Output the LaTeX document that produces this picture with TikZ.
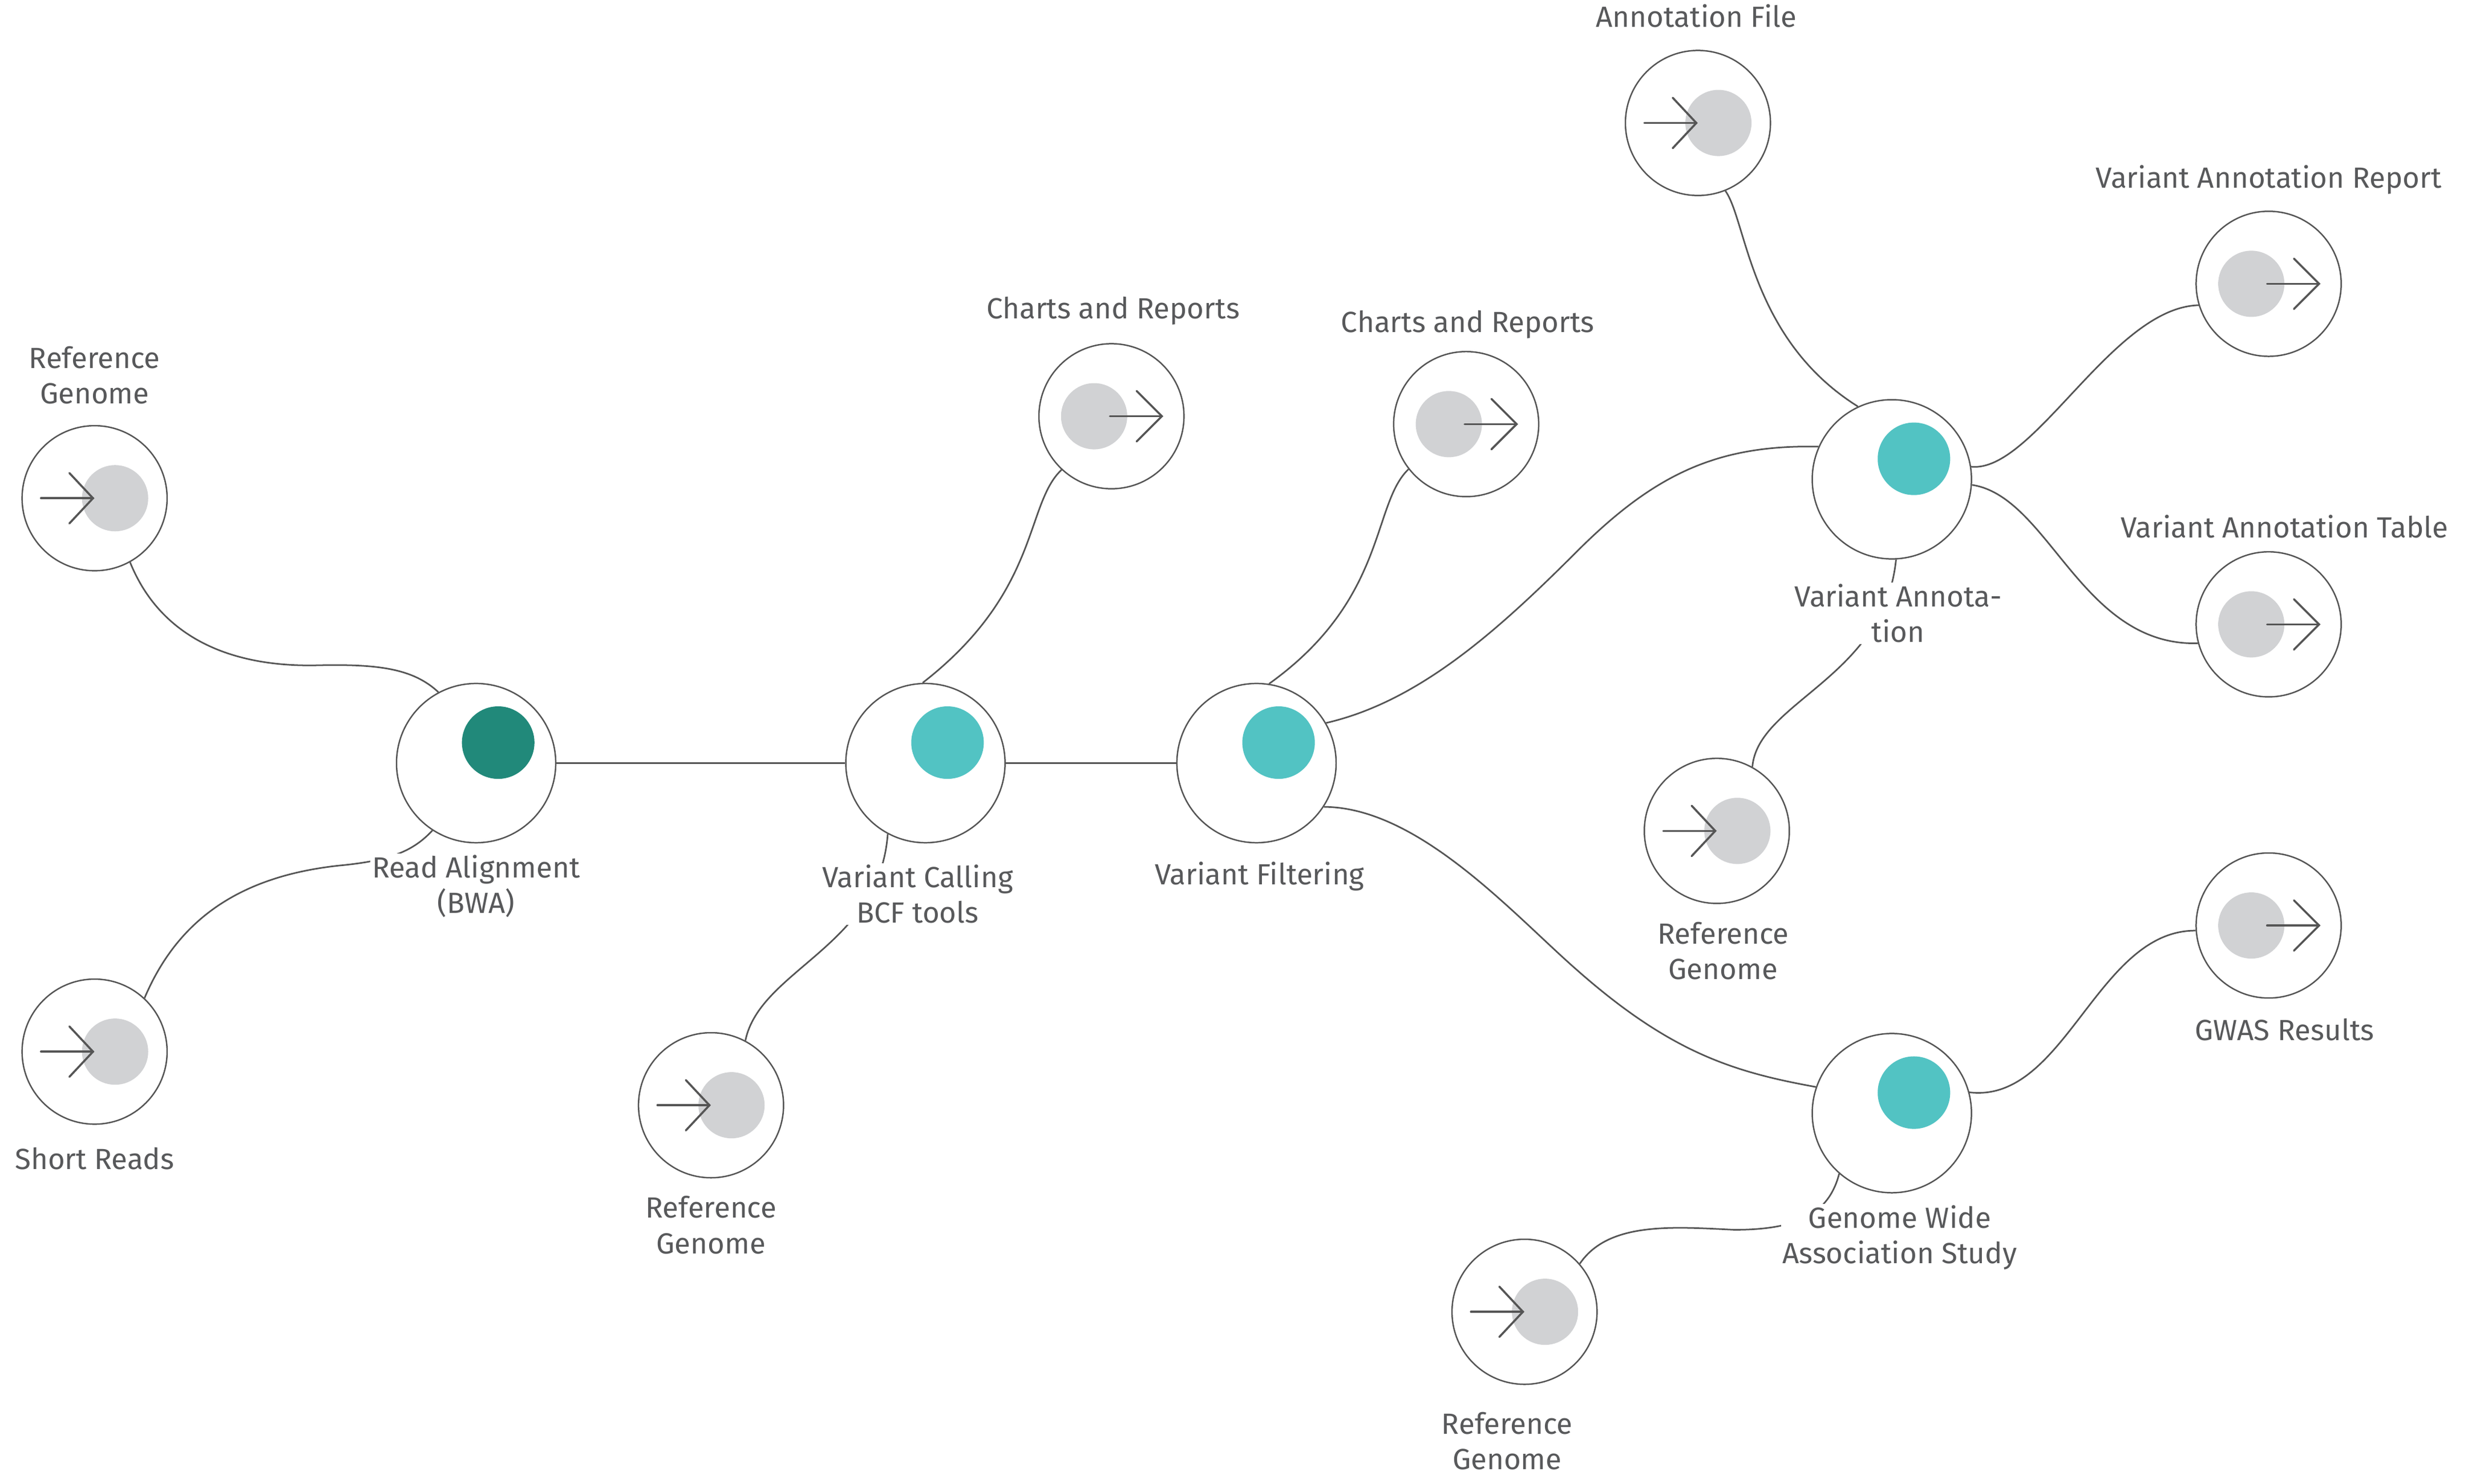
\documentclass[tikz,border=0pt]{standalone}
\usepackage{fontspec}
\setmainfont{Fira Sans}
\usetikzlibrary{calc,backgrounds}
\definecolor{ink}{HTML}{555555}
\definecolor{txt}{HTML}{58595B}
\definecolor{dotgray}{HTML}{D1D2D4}
\definecolor{darkteal}{HTML}{21897A}
\definecolor{lightteal}{HTML}{52C3C3}
\newcommand\iconIn[1]{%
  \fill[dotgray] ($(#1.center)+(13,0)$) circle[radius=21pt];
  \draw[icon] ($(#1.center)+(-34,0)$) -- ($(#1.center)+(-1,0)$);
  \draw[icon] ($(#1.center)+(-16,-16)$) -- ($(#1.center)+(-1,0)$) -- ($(#1.center)+(-16,16)$);}
\newcommand\iconOut[1]{%
  \fill[dotgray] ($(#1.center)+(-11,0)$) circle[radius=21pt];
  \draw[icon] ($(#1.center)+(-1,0)$) -- ($(#1.center)+(32,0)$);
  \draw[icon] ($(#1.center)+(16,-16)$) -- ($(#1.center)+(32,0)$) -- ($(#1.center)+(16,16)$);}
\newcommand\hubDot[2]{%
  \fill[#2] ($(#1.center)+(14,-13)$) circle[radius=23pt];}
\begin{document}
\begin{tikzpicture}[x=1pt,y=-1pt,
  smallnode/.style={circle,draw=ink,line width=0.9pt,fill=white,minimum size=92pt,inner sep=0pt},
  bignode/.style={circle,draw=ink,line width=0.9pt,fill=white,minimum size=101pt,inner sep=0pt},
  link/.style={draw=ink,line width=1pt},
  lbl/.style={font=\fontsize{18.5}{22.5}\selectfont,text=txt,align=center,fill=white,inner sep=1pt},
  icon/.style={draw=ink,line width=1.3pt,line cap=round,line join=miter}]
\useasboundingbox (0,0) rectangle (1568,941.2);

% nodes
\node[smallnode] (ref1) at (60,316) {};
\node[bignode] (align) at (302,484) {};
\node[smallnode] (short) at (60,667) {};
\node[bignode] (vcall) at (587,484) {};
\node[smallnode] (ref2) at (451,701) {};
\node[smallnode] (chart1) at (705,264) {};
\node[bignode] (vfilt) at (797,484) {};
\node[smallnode] (chart2) at (930,269) {};
\node[bignode] (vann) at (1200,304) {};
\node[smallnode] (annfile) at (1077,78) {};
\node[smallnode] (ref3) at (1089,527) {};
\node[smallnode] (varep) at (1439,180) {};
\node[smallnode] (vatab) at (1439,396) {};
\node[bignode] (gwas) at (1200,706) {};
\node[smallnode] (gwasres) at (1439,587) {};
\node[smallnode] (ref4) at (967,832) {};

% icons
\iconIn{ref1}
\iconIn{short}
\iconIn{ref2}
\iconIn{annfile}
\iconIn{ref3}
\iconIn{ref4}
\iconOut{chart1}
\iconOut{chart2}
\iconOut{varep}
\iconOut{vatab}
\iconOut{gwasres}
\hubDot{align}{darkteal}
\hubDot{vcall}{lightteal}
\hubDot{vfilt}{lightteal}
\hubDot{vann}{lightteal}
\hubDot{gwas}{lightteal}

% connectors
\begin{scope}[on background layer]
\fill[white] (0,0) rectangle (1568,941.2);
\draw[link] (ref1.-61) .. controls (100,400) and (140,423) .. (200,422) .. controls (240,421) and (262,424) .. (align.118);
\draw[link] (align.-123) .. controls (262,540) and (247,546) .. (215,549) .. controls (150,556) and (112,585) .. (short.47);
\draw[link] (align.east) -- (vcall.west);
\draw[link] (vcall.92) .. controls (660,375) and (650,320) .. (chart1.-133);
\draw[link] (vcall.-118) .. controls (558,600) and (482,615) .. (ref2.62);
\draw[link] (vcall.east) -- (vfilt.west);
\draw[link] (vfilt.81) .. controls (880,380) and (870,320) .. (chart2.-142);
\draw[link] (vfilt.30) .. controls (900,445) and (950,400) .. (1000,350) .. controls (1050,300) and (1090,282) .. (vann.156);
\draw[link] (vfilt.-33) .. controls (900,512) and (960,580) .. (1000,615) .. controls (1060,668) and (1100,680) .. (gwas.161);
\draw[link] (vann.115) .. controls (1110,215) and (1108,140) .. (annfile.-68);
\draw[link] (vann.9) .. controls (1290,300) and (1340,195) .. (varep.-163);
\draw[link] (vann.-4) .. controls (1300,315) and (1320,410) .. (vatab.-165);
\draw[link] (vann.-87) .. controls (1195,430) and (1115,445) .. (ref3.61);
\draw[link] (gwas.15) .. controls (1310,700) and (1330,590) .. (gwasres.-176);
\draw[link] (gwas.-131) .. controls (1160,770) and (1140,780) .. (1100,780) .. controls (1060,778) and (1020,775) .. (ref4.41);
\end{scope}

% labels
\node[lbl] (lref1) at (60,238) {Reference\\Genome};
\node[lbl] (lalign) at (302,562) {Read Alignment\\(BWA)};
\node[lbl] (lshort) at (60,735) {Short Reads};
\node[lbl] (lvcall) at (582,567) {Variant Calling\\BCF tools};
\node[lbl] (lref2) at (451,777) {Reference\\Genome};
\node[lbl] (lchart1) at (706,197) {Charts and Reports};
\node[lbl] (lvfilt) at (799,556) {Variant Filtering};
\node[lbl] (lchart2) at (931,206) {Charts and Reports};
\node[lbl] (lvann) at (1204,389) {Variant Annota-\\tion};
\node[lbl] (lannfile) at (1076,10) {Annotation File};
\node[lbl] (lref3) at (1093,603) {Reference\\Genome};
\node[lbl] (lvarep) at (1439,114) {Variant Annotation Report};
\node[lbl] (lvatab) at (1449,334) {Variant Annotation Table};
\node[lbl] (lgwas) at (1205,785) {Genome Wide\\Association Study};
\node[lbl] (lgwasres) at (1449,653) {GWAS Results};
\node[lbl] (lref4) at (956,914) {Reference\\Genome};
\end{tikzpicture}
\end{document}
